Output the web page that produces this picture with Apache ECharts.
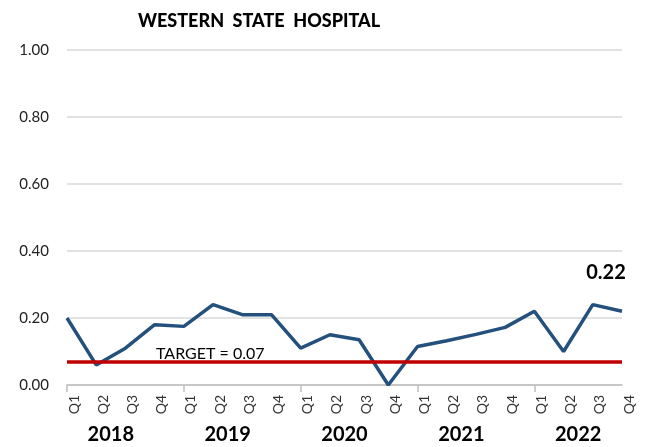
<!DOCTYPE html>
<html>
<head>
<meta charset="utf-8">
<script src="https://cdn.jsdelivr.net/npm/echarts@6/dist/echarts.min.js"></script>
<style>
html,body{margin:0;padding:0;background:#fff;}
#chart{width:645px;height:447px;}
</style>
</head>
<body>
<div id="chart"></div>
<script>
const years = ['2018', '2019', '2020', '2021', '2022'];
const quarters = ['Q1', 'Q2', 'Q3', 'Q4'];
const rate = [0.20, 0.06, 0.11, 0.18, 0.175, 0.24, 0.21, 0.21, 0.11, 0.15, 0.135, 0.00, 0.115, 0.132, 0.151, 0.172, 0.22, 0.10, 0.24, 0.22];
const target = 0.07;
const yTicks = [0, 0.2, 0.4, 0.6, 0.8, 1.0];

const categories = [];
years.forEach(y => quarters.forEach(q => categories.push(y + ' ' + q)));
const yearCenters = years.map((y, i) => i * 4 + 1.5);

const lineData = rate.map((v, i) => i === rate.length - 1
  ? { value: v, label: { show: true, position: 'top', formatter: p => p.value.toFixed(2), fontFamily: 'Lato', fontWeight: 'bold', fontSize: 20, color: '#000', offset: [-16, -24] } }
  : v);

const chart = echarts.init(document.getElementById('chart'), null, { renderer: 'canvas' });
chart.setOption({
  backgroundColor: '#fff',
  animation: false,
  title: {
    text: 'WESTERN  STATE  HOSPITAL',
    left: 259, top: 12, textAlign: 'center', padding: 0,
    textStyle: { fontFamily: 'Lato', fontWeight: 900, fontSize: 18, color: '#000' }
  },
  grid: { left: 67, right: 23, top: 50, bottom: 62, containLabel: false },
  xAxis: [{
    type: 'category',
    data: categories,
    boundaryGap: false,
    axisLine: { lineStyle: { color: '#bfbfbf', width: 1.5 } },
    axisTick: { show: true, length: 7, interval: (i) => i % 4 === 0, lineStyle: { color: '#bfbfbf', width: 1.5 } },
    axisLabel: {
      interval: 0, rotate: 90, margin: 10, verticalAlign: 'top',
      formatter: v => v.split(' ')[1],
      fontFamily: 'Lato', fontSize: 14, color: '#333'
    },
    splitLine: { show: false }
  }, {
    type: 'value',
    min: 0, max: rate.length - 1,
    position: 'bottom',
    axisLine: { show: false }, axisTick: { show: false }, splitLine: { show: false },
    axisLabel: {
      customValues: yearCenters,
      margin: 40,
      formatter: v => years[Math.floor(v / 4)],
      fontFamily: 'Lato', fontWeight: 'bold', fontSize: 20, color: '#000'
    }
  }],
  yAxis: {
    type: 'value', min: yTicks[0], max: yTicks[yTicks.length - 1], interval: 0.2,
    axisLine: { show: false }, axisTick: { show: false },
    axisLabel: { formatter: v => v.toFixed(2), fontFamily: 'Lato', fontSize: 15, color: '#222', margin: 18 },
    splitLine: { lineStyle: { color: '#d9d9d9', width: 1.5 } }
  },
  series: [{
    type: 'line',
    data: lineData,
    xAxisIndex: 0,
    symbol: 'circle', symbolSize: 0.1, showSymbol: true,
    lineStyle: { color: '#24507e', width: 3.5 },
    itemStyle: { color: '#24507e' },
    z: 3,
    markLine: {
      silent: true, symbol: 'none', z: 5,
      lineStyle: { color: '#c00000', width: 3.5, type: 'solid' },
      label: {
        show: true, position: 'insideStartTop', distance: [89, 0],
        formatter: 'TARGET = ' + target.toFixed(2),
        fontFamily: 'Lato', fontSize: 16, color: '#000'
      },
      data: [{ yAxis: target }]
    }
  }]
});
</script>
</body>
</html>
